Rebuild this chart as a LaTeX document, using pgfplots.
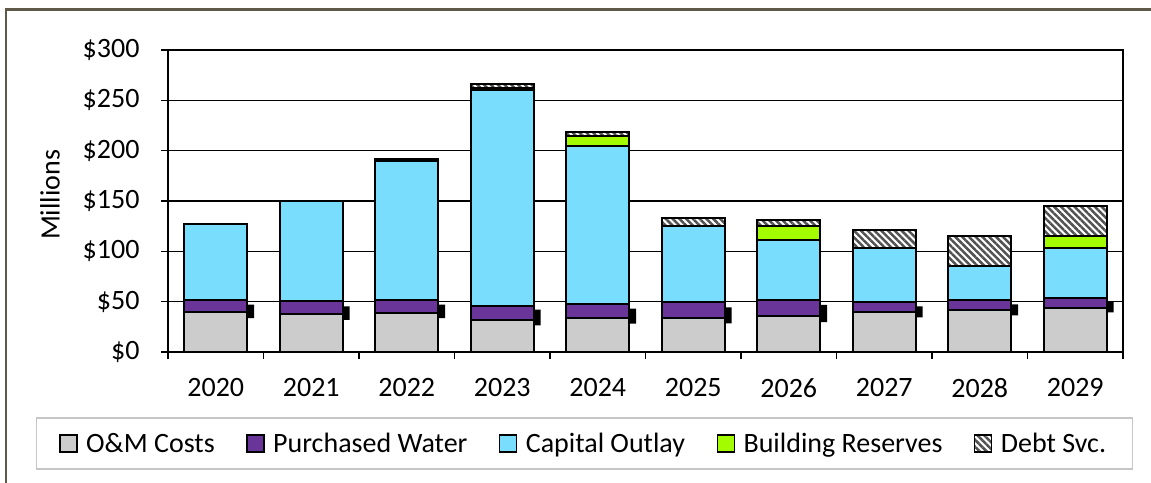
\documentclass[border=0pt]{standalone}
\usepackage{fontspec}
\setmainfont{Carlito}
\usepackage{pgfplots}
\usepackage{pgfplotstable}
\pgfplotsset{compat=1.18}
\usetikzlibrary{patterns.meta}
\definecolor{omc}{HTML}{CCCCCC}
\definecolor{pwc}{HTML}{6A3599}
\definecolor{coc}{HTML}{79DEFD}
\definecolor{brc}{HTML}{A4FC00}
\definecolor{dsc}{HTML}{525252}
\definecolor{framec}{HTML}{5E5948}
\newcommand{\fs}{\fontsize{28bp}{34bp}\selectfont}

\pgfplotstableread{
x om pw co br ds lo hi
0 39.6 11.6 75.7 0 0 33.6 13.4
1 37.3 12.9 100.3 0 0 32.0 13.3
2 39.0 12.9 138.1 0 2.0 33.6 13.4
3 31.7 14.3 214.0 2.5 3.5 26.4 15.6
4 33.6 13.7 157.2 9.9 4.3 28.1 14.9
5 33.6 15.7 75.9 0 8.4 28.4 16.0
6 36.2 15.0 59.7 14.3 5.6 29.6 17.2
7 40.0 9.6 53.7 0 17.6 34.3 11.0
8 42.0 9.9 33.5 0 29.5 36.3 11.0
9 44.0 9.5 49.8 11.6 29.9 39.3 10.3
}\data

\begin{document}
\begin{tikzpicture}
\begin{axis}[
  at={(168bp,-352bp)}, anchor=south west,
  scale only axis, width=955bp, height=302bp,
  ybar stacked, bar width=63bp,
  xmin=-0.5, xmax=9.5, ymin=0, ymax=300,
  xtick={0,...,9},
  xticklabels={2020,2021,2022,2023,2024,2025,2026,2027,2028,2029},
  minor xtick={-0.5,0.5,...,9.5},
  ytick={0,50,...,300},
  yticklabels={\$0,\$50,\$100,\$150,\$200,\$250,\$300},
  tick pos=left,
  tick align=outside, major tick length=7bp, minor tick length=7bp,
  tick style={black, line width=1.3bp},
  major x tick style={draw=none},
  minor x tick style={black, line width=1.3bp},
  ymajorgrids, major grid style={black, line width=1.4bp},
  axis line style={black, line width=2bp},
  tick label style={font=\fs},
  yticklabel style={xshift=-18bp},
  xticklabel style={yshift=-16bp},
  ylabel={Millions},
  ylabel style={font=\fs, at={(axis description cs:-0.1236,0.52)}, anchor=center},
  legend columns=5,
  legend style={at={(axis description cs:0.4361,-0.303)}, anchor=center,
    draw=gray!45, line width=1.2bp, fill=white, font=\fs,
    inner xsep=23bp, inner ysep=12bp,
    nodes={inner xsep=3.5bp, inner ysep=3bp},
    /tikz/every even column/.append style={column sep=28bp}},
  legend image code/.code={\draw[#1, draw=black, line width=1.4bp] (0bp,-8.5bp) rectangle (17bp,8.5bp);},
]
\addplot[draw=black, line width=2bp, fill=omc] table[x=x,y=om]{\data};
\addlegendentry{\hspace{5bp}O\&M Costs}
\addplot[draw=black, line width=2bp, fill=pwc] table[x=x,y=pw]{\data};
\addlegendentry{\hspace{5bp}Purchased Water}
\addplot[draw=black, line width=2bp, fill=coc] table[x=x,y=co]{\data};
\addlegendentry{\hspace{5bp}Capital Outlay}
\addplot[draw=black, line width=2bp, fill=brc] table[x=x,y=br]{\data};
\addlegendentry{\hspace{5bp}Building Reserves}
\addplot[draw=black, line width=2bp, fill=white,
  postaction={pattern={Lines[angle=-45,distance=4.8bp,line width=2.5bp]}, pattern color=dsc}] table[x=x,y=ds]{\data};
\addlegendentry{\hspace{5bp}Debt Svc.}
\end{axis}
\begin{axis}[
  at={(168bp,-352bp)}, anchor=south west,
  scale only axis, width=955bp, height=302bp,
  xmin=-0.5, xmax=9.5, ymin=0, ymax=300, hide axis,
  ybar stacked, bar width=6.5bp, bar shift=35bp,
]
\addplot[draw=none, fill=none, bar shift=35bp] table[x=x,y=lo]{\data};
\addplot[draw=none, fill=black, bar shift=35bp] table[x=x,y=hi]{\data};
\end{axis}
\draw[framec, line width=2.2bp] (6.2bp,-490bp) -- (6.2bp,-9.5bp) -- (1160bp,-9.5bp);
\pgfresetboundingbox
\path (0bp,0bp) rectangle (1151bp,-483bp);
\end{tikzpicture}
\end{document}
